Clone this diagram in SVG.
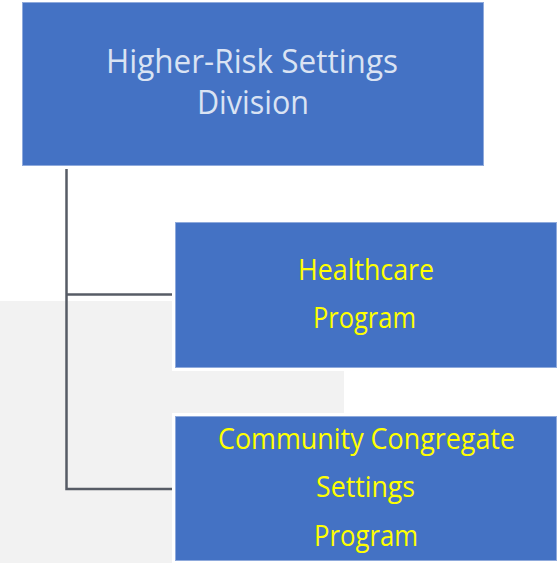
<svg xmlns="http://www.w3.org/2000/svg" width="559" height="563" viewBox="0 0 559 563">
<style>
.box{fill:#4472C4;stroke:#8FAADC;stroke-width:1}
.halo{fill:#FFFFFF}
.conn{fill:none;stroke:#575C66;stroke-width:2.5}
.t{font-family:"Open Sans","Liberation Sans",sans-serif;text-anchor:middle}
.w{fill:#DAE3F3;font-size:32px}
.y{fill:#FFFF00;font-size:29px}
</style>
<rect width="559" height="563" fill="#FFFFFF"/>
<rect x="0" y="301" width="344" height="262" fill="#F2F2F2"/>
<g id="connectors">
<path class="conn" d="M66.5,169 V489 H173"/>
<path class="conn" d="M66.5,294.5 H173"/>
</g>
<g id="division">
<rect class="box" x="22.5" y="2.5" width="461" height="163"/>
<text class="t w" x="252" y="73" textLength="292" lengthAdjust="spacingAndGlyphs">Higher-Risk Settings</text>
<text class="t w" x="253" y="114" textLength="112" lengthAdjust="spacingAndGlyphs">Division</text>
</g>
<g id="healthcare">
<rect class="halo" x="172" y="219" width="387" height="152"/>
<rect class="box" x="175.5" y="222.5" width="381" height="145"/>
<text class="t y" x="366" y="280" textLength="136" lengthAdjust="spacingAndGlyphs">Healthcare</text>
<text class="t y" x="364.5" y="328" textLength="103" lengthAdjust="spacingAndGlyphs">Program</text>
</g>
<g id="community">
<rect class="halo" x="172" y="413" width="387" height="150"/>
<rect class="box" x="175.5" y="416.5" width="381" height="144"/>
<text class="t y" x="366.5" y="449" textLength="297" lengthAdjust="spacingAndGlyphs">Community Congregate</text>
<text class="t y" x="365.5" y="497" textLength="99" lengthAdjust="spacingAndGlyphs">Settings</text>
<text class="t y" x="366" y="546" textLength="104" lengthAdjust="spacingAndGlyphs">Program</text>
</g>
</svg>
